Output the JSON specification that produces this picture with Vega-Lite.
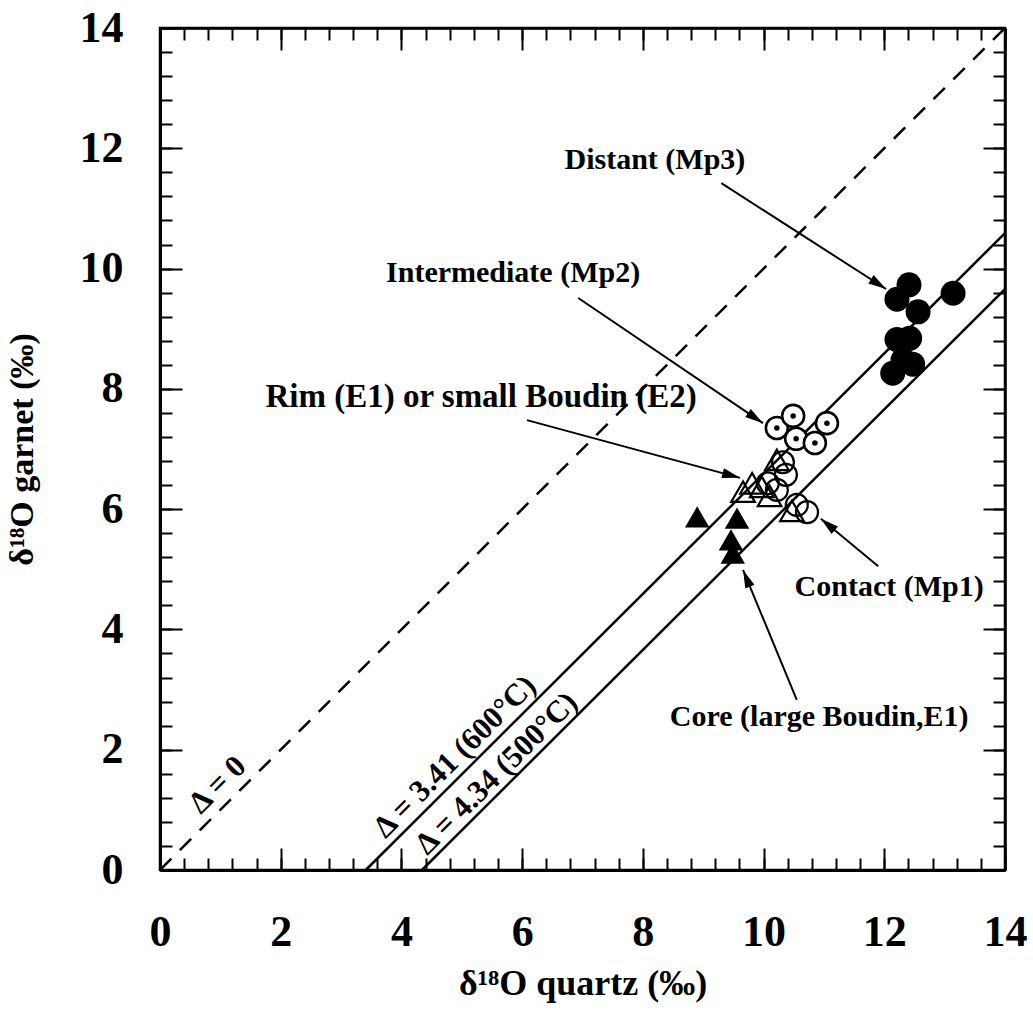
{
  "$schema": "https://vega.github.io/schema/vega-lite/v6.json",
  "width": 845,
  "height": 842,
  "autosize": {"type": "none"},
  "padding": {"left": 160, "top": 28, "right": 28, "bottom": 141},
  "background": "white",
  "config": {
    "view": {"stroke": "black", "strokeWidth": 2.5},
    "axis": {
      "grid": false,
      "domainColor": "black",
      "tickColor": "black",
      "labelColor": "black",
      "titleColor": "black",
      "labelFont": "Liberation Serif",
      "titleFont": "Liberation Serif",
      "labelFontWeight": "bold",
      "titleFontWeight": "bold",
      "labelFlush": false,
      "labelOverlap": false
    },
    "text": {"font": "Liberation Serif", "fontWeight": "bold", "color": "black"}
  },
  "datasets": {
    "samples": [
      {"type": "Distant", "x": 12.41, "y": 9.73},
      {"type": "Distant", "x": 12.21, "y": 9.49},
      {"type": "Distant", "x": 12.56, "y": 9.28},
      {"type": "Distant", "x": 13.14, "y": 9.59},
      {"type": "Distant", "x": 12.21, "y": 8.82},
      {"type": "Distant", "x": 12.42, "y": 8.84},
      {"type": "Distant", "x": 12.31, "y": 8.48},
      {"type": "Distant", "x": 12.47, "y": 8.41},
      {"type": "Distant", "x": 12.14, "y": 8.26},
      {"type": "Intermediate", "x": 10.22, "y": 7.35},
      {"type": "Intermediate", "x": 10.49, "y": 7.55},
      {"type": "Intermediate", "x": 11.05, "y": 7.43},
      {"type": "Intermediate", "x": 10.54, "y": 7.17},
      {"type": "Intermediate", "x": 10.85, "y": 7.1},
      {"type": "Contact", "x": 10.32, "y": 6.78},
      {"type": "Contact", "x": 10.37, "y": 6.57},
      {"type": "Contact", "x": 10.07, "y": 6.43},
      {"type": "Contact", "x": 10.22, "y": 6.32},
      {"type": "Contact", "x": 10.55, "y": 6.07},
      {"type": "Contact", "x": 10.72, "y": 5.95},
      {"type": "Rim", "x": 10.22, "y": 6.82},
      {"type": "Rim", "x": 9.81, "y": 6.43},
      {"type": "Rim", "x": 9.66, "y": 6.29},
      {"type": "Rim", "x": 9.97, "y": 6.37},
      {"type": "Rim", "x": 10.1, "y": 6.22},
      {"type": "Rim", "x": 10.47, "y": 5.97},
      {"type": "Core", "x": 8.9, "y": 5.87},
      {"type": "Core", "x": 9.56, "y": 5.85},
      {"type": "Core", "x": 9.46, "y": 5.49},
      {"type": "Core", "x": 9.49, "y": 5.27}
    ],
    "lines": [
      {"delta": 0, "x1": 0, "y1": 0, "x2": 14, "y2": 14},
      {"delta": 3.41, "x1": 3.41, "y1": 0, "x2": 14, "y2": 10.59},
      {"delta": 4.34, "x1": 4.34, "y1": 0, "x2": 14, "y2": 9.66}
    ],
    "arrows": [
      {"label": "Distant", "x": 9.3, "y": 11.42, "xTip": 12.03, "yTip": 9.66},
      {"label": "Intermediate", "x": 6.93, "y": 9.51, "xTip": 9.99, "yTip": 7.43},
      {"label": "Rim", "x": 6.08, "y": 7.48, "xTip": 9.61, "yTip": 6.52},
      {"label": "Contact", "x": 11.9, "y": 5.05, "xTip": 10.95, "yTip": 5.84},
      {"label": "Core", "x": 10.55, "y": 2.83, "xTip": 9.66, "yTip": 4.99}
    ],
    "annotations": [
      {"text": "Distant (Mp3)", "x": 8.2, "y": 11.81},
      {"text": "Intermediate (Mp2)", "x": 5.85, "y": 9.93},
      {"text": "Contact (Mp1)", "x": 12.08, "y": 4.71},
      {"text": "Core (large Boudin,E1)", "x": 10.92, "y": 2.54}
    ],
    "rimLabel": [
      {"text": "Rim (E1) or small Boudin (E2)", "x": 5.32, "y": 7.87}
    ],
    "lineLabels": [
      {"text": "Δ = 0", "x": 0.96, "y": 1.41},
      {"text": "Δ = 3.41 (600°C)", "x": 4.89, "y": 1.88},
      {"text": "Δ = 4.34 (500°C)", "x": 5.58, "y": 1.6}
    ]
  },
  "resolve": {"axis": {"x": "independent", "y": "independent"}},
  "layer": [
    {
      "data": {"name": "lines"},
      "transform": [{"filter": "datum.delta == 0"}],
      "mark": {"type": "rule", "strokeWidth": 2.5, "strokeDash": [16, 12], "color": "black"},
      "encoding": {
        "x": {"field": "x1", "type": "quantitative", "scale": {"domain": [0, 14], "nice": false},
          "axis": {"orient": "bottom", "values": [0, 2, 4, 6, 8, 10, 12, 14], "ticks": false, "labelPadding": 40, "labelFontSize": 44, "domain": true, "domainWidth": 3, "title": "δ¹⁸O quartz (‰)", "titleFontSize": 36, "titlePadding": 12}},
        "y": {"field": "y1", "type": "quantitative", "scale": {"domain": [0, 14], "nice": false},
          "axis": {"orient": "left", "values": [0, 2, 4, 6, 8, 10, 12, 14], "ticks": false, "labelPadding": 37, "labelFontSize": 44, "domain": true, "domainWidth": 3, "title": "δ¹⁸O garnet (‰)", "titleFontSize": 34, "titlePadding": 40}},
        "x2": {"field": "x2"},
        "y2": {"field": "y2"}
      }
    },
    {
      "data": {"name": "lines"},
      "transform": [{"filter": "datum.delta != 0"}],
      "mark": {"type": "rule", "strokeWidth": 2.5, "color": "black"},
      "encoding": {
        "x": {"field": "x1", "type": "quantitative", "scale": {"domain": [0, 14], "nice": false},
          "axis": {"orient": "bottom", "values": [0, 2, 4, 6, 8, 10, 12, 14], "labels": false, "ticks": true, "tickSize": -22, "tickWidth": 2, "domain": false, "title": null}},
        "y": {"field": "y1", "type": "quantitative", "scale": {"domain": [0, 14], "nice": false},
          "axis": {"orient": "left", "values": [0, 2, 4, 6, 8, 10, 12, 14], "labels": false, "ticks": true, "tickSize": -22, "tickWidth": 2, "domain": false, "title": null}},
        "x2": {"field": "x2"},
        "y2": {"field": "y2"}
      }
    },
    {
      "data": {"name": "arrows"},
      "mark": {"type": "rule", "strokeWidth": 2, "color": "black"},
      "encoding": {
        "x": {"field": "x", "type": "quantitative", "scale": {"domain": [0, 14], "nice": false},
          "axis": {"orient": "bottom", "values": [0, 0.4, 0.8, 1.2, 1.6, 2, 2.4, 2.8, 3.2, 3.6, 4, 4.4, 4.8, 5.2, 5.6, 6, 6.4, 6.8, 7.2, 7.6, 8, 8.4, 8.8, 9.2, 9.6, 10, 10.4, 10.8, 11.2, 11.6, 12, 12.4, 12.8, 13.2, 13.6, 14], "labels": false, "ticks": true, "tickSize": -12, "tickWidth": 2, "domain": false, "title": null}},
        "y": {"field": "y", "type": "quantitative", "scale": {"domain": [0, 14], "nice": false},
          "axis": {"orient": "left", "values": [0, 0.4, 0.8, 1.2, 1.6, 2, 2.4, 2.8, 3.2, 3.6, 4, 4.4, 4.8, 5.2, 5.6, 6, 6.4, 6.8, 7.2, 7.6, 8, 8.4, 8.8, 9.2, 9.6, 10, 10.4, 10.8, 11.2, 11.6, 12, 12.4, 12.8, 13.2, 13.6, 14], "labels": false, "ticks": true, "tickSize": -12, "tickWidth": 2, "domain": false, "title": null}},
        "x2": {"field": "xTip"},
        "y2": {"field": "yTip"}
      }
    },
    {
      "data": {"name": "arrows"},
      "transform": [{"calculate": "atan2(datum.xTip - datum.x, datum.yTip - datum.y) * 180 / PI", "as": "ang"}],
      "mark": {"type": "point", "shape": "M0,0L-0.55,2L0.55,2Z", "filled": true, "color": "black", "opacity": 1, "size": 324, "strokeWidth": 0},
      "encoding": {
        "x": {"field": "xTip", "type": "quantitative", "scale": {"domain": [0, 14], "nice": false},
          "axis": {"orient": "top", "values": [0, 2, 4, 6, 8, 10, 12, 14], "labels": false, "ticks": true, "tickSize": -22, "tickWidth": 2, "domain": true, "domainWidth": 2.5, "title": null}},
        "y": {"field": "yTip", "type": "quantitative", "scale": {"domain": [0, 14], "nice": false},
          "axis": {"orient": "right", "values": [0, 2, 4, 6, 8, 10, 12, 14], "labels": false, "ticks": true, "tickSize": -22, "tickWidth": 2, "domain": true, "domainWidth": 2.5, "title": null}},
        "angle": {"field": "ang", "type": "quantitative", "scale": null}
      }
    },
    {
      "data": {"name": "samples"},
      "transform": [{"filter": "datum.type == 'Distant'"}],
      "mark": {"type": "point", "shape": "circle", "filled": true, "color": "black", "opacity": 1, "size": 625},
      "encoding": {
        "x": {"field": "x", "type": "quantitative", "scale": {"domain": [0, 14], "nice": false},
          "axis": {"orient": "top", "values": [0, 0.4, 0.8, 1.2, 1.6, 2, 2.4, 2.8, 3.2, 3.6, 4, 4.4, 4.8, 5.2, 5.6, 6, 6.4, 6.8, 7.2, 7.6, 8, 8.4, 8.8, 9.2, 9.6, 10, 10.4, 10.8, 11.2, 11.6, 12, 12.4, 12.8, 13.2, 13.6, 14], "labels": false, "ticks": true, "tickSize": -12, "tickWidth": 2, "domain": false, "title": null}},
        "y": {"field": "y", "type": "quantitative", "scale": {"domain": [0, 14], "nice": false},
          "axis": {"orient": "right", "values": [0, 0.4, 0.8, 1.2, 1.6, 2, 2.4, 2.8, 3.2, 3.6, 4, 4.4, 4.8, 5.2, 5.6, 6, 6.4, 6.8, 7.2, 7.6, 8, 8.4, 8.8, 9.2, 9.6, 10, 10.4, 10.8, 11.2, 11.6, 12, 12.4, 12.8, 13.2, 13.6, 14], "labels": false, "ticks": true, "tickSize": -12, "tickWidth": 2, "domain": false, "title": null}}
      }
    },
    {
      "data": {"name": "samples"},
      "transform": [{"filter": "datum.type == 'Core'"}],
      "mark": {"type": "point", "shape": "triangle-up", "filled": true, "color": "black", "opacity": 1, "size": 600},
      "encoding": {
        "x": {"field": "x", "type": "quantitative", "scale": {"domain": [0, 14], "nice": false}, "axis": null},
        "y": {"field": "y", "type": "quantitative", "scale": {"domain": [0, 14], "nice": false}, "axis": null}
      }
    },
    {
      "data": {"name": "samples"},
      "transform": [{"filter": "datum.type == 'Rim'"}],
      "mark": {"type": "point", "shape": "triangle-up", "filled": false, "color": "black", "opacity": 1, "size": 560, "strokeWidth": 2.2},
      "encoding": {
        "x": {"field": "x", "type": "quantitative", "scale": {"domain": [0, 14], "nice": false}, "axis": null},
        "y": {"field": "y", "type": "quantitative", "scale": {"domain": [0, 14], "nice": false}, "axis": null}
      }
    },
    {
      "data": {"name": "samples"},
      "transform": [{"filter": "datum.type == 'Contact'"}],
      "mark": {"type": "point", "shape": "circle", "filled": false, "color": "black", "opacity": 1, "size": 484, "strokeWidth": 2.2},
      "encoding": {
        "x": {"field": "x", "type": "quantitative", "scale": {"domain": [0, 14], "nice": false}, "axis": null},
        "y": {"field": "y", "type": "quantitative", "scale": {"domain": [0, 14], "nice": false}, "axis": null}
      }
    },
    {
      "data": {"name": "samples"},
      "transform": [{"filter": "datum.type == 'Intermediate'"}],
      "mark": {"type": "point", "shape": "circle", "filled": true, "fill": "white", "stroke": "black", "fillOpacity": 1, "strokeOpacity": 1, "size": 484, "strokeWidth": 2.6},
      "encoding": {
        "x": {"field": "x", "type": "quantitative", "scale": {"domain": [0, 14], "nice": false}, "axis": null},
        "y": {"field": "y", "type": "quantitative", "scale": {"domain": [0, 14], "nice": false}, "axis": null}
      }
    },
    {
      "data": {"name": "samples"},
      "transform": [{"filter": "datum.type == 'Intermediate'"}],
      "mark": {"type": "point", "shape": "circle", "filled": true, "color": "black", "opacity": 1, "size": 30},
      "encoding": {
        "x": {"field": "x", "type": "quantitative", "scale": {"domain": [0, 14], "nice": false}, "axis": null},
        "y": {"field": "y", "type": "quantitative", "scale": {"domain": [0, 14], "nice": false}, "axis": null}
      }
    },
    {
      "data": {"name": "annotations"},
      "mark": {"type": "text", "fontSize": 30, "align": "center", "baseline": "middle"},
      "encoding": {
        "x": {"field": "x", "type": "quantitative", "scale": {"domain": [0, 14], "nice": false}, "axis": null},
        "y": {"field": "y", "type": "quantitative", "scale": {"domain": [0, 14], "nice": false}, "axis": null},
        "text": {"field": "text"}
      }
    },
    {
      "data": {"name": "rimLabel"},
      "mark": {"type": "text", "fontSize": 33, "align": "center", "baseline": "middle"},
      "encoding": {
        "x": {"field": "x", "type": "quantitative", "scale": {"domain": [0, 14], "nice": false}, "axis": null},
        "y": {"field": "y", "type": "quantitative", "scale": {"domain": [0, 14], "nice": false}, "axis": null},
        "text": {"field": "text"}
      }
    },
    {
      "data": {"name": "lineLabels"},
      "mark": {"type": "text", "fontSize": 31, "align": "center", "baseline": "middle", "angle": 315},
      "encoding": {
        "x": {"field": "x", "type": "quantitative", "scale": {"domain": [0, 14], "nice": false}, "axis": null},
        "y": {"field": "y", "type": "quantitative", "scale": {"domain": [0, 14], "nice": false}, "axis": null},
        "text": {"field": "text"}
      }
    }
  ]
}
